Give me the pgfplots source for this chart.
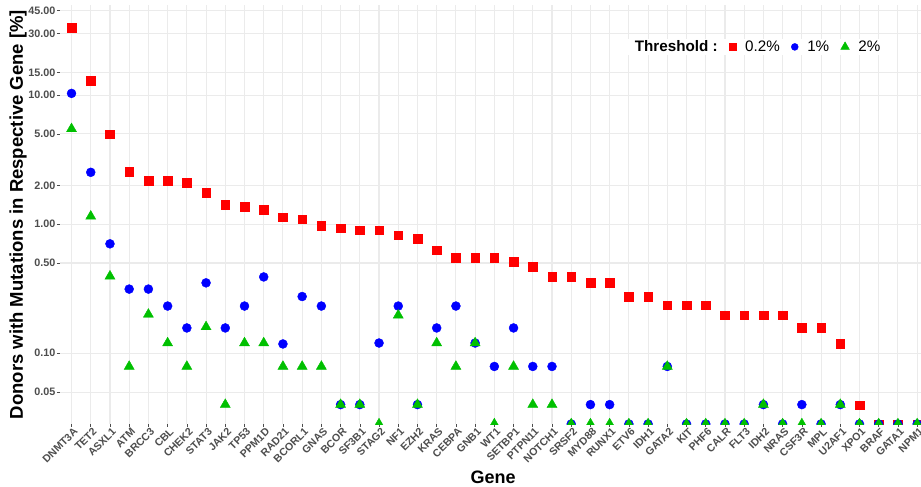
\documentclass[border=0pt]{standalone}
\usepackage{fontspec}
\setmainfont{Liberation Sans}
\usepackage{pgfplots}
\usepackage{pgfplotstable}
\pgfplotsset{compat=1.18}
\definecolor{gridc}{HTML}{EBEBEB}
\definecolor{tickc}{HTML}{4D4D4D}
\definecolor{ggred}{HTML}{FF0000}
\definecolor{ggblue}{HTML}{0000FF}
\definecolor{gggreen}{HTML}{00C000}

% zero counts are drawn at the lower panel edge (0.0283)
\pgfplotstableread{
x gene r b g
0 DNMT3A 33.2 10.3 5.47
1 TET2 12.9 2.52 1.15
2 ASXL1 4.98 0.704 0.395
3 ATM 2.54 0.314 0.079
4 BRCC3 2.18 0.314 0.200
5 CBL 2.18 0.232 0.120
6 CHEK2 2.09 0.157 0.079
7 STAT3 1.75 0.351 0.160
8 JAK2 1.41 0.157 0.040
9 TP53 1.37 0.232 0.120
10 PPM1D 1.29 0.390 0.120
11 RAD21 1.13 0.118 0.079
12 BCORL1 1.09 0.275 0.079
13 GNAS 0.97 0.232 0.079
14 BCOR 0.93 0.040 0.040
15 SF3B1 0.90 0.040 0.040
16 STAG2 0.90 0.120 0.0283
17 NF1 0.82 0.232 0.197
18 EZH2 0.775 0.040 0.040
19 KRAS 0.63 0.157 0.120
20 CEBPA 0.548 0.232 0.079
21 GNB1 0.548 0.120 0.120
22 WT1 0.548 0.079 0.0283
23 SETBP1 0.51 0.157 0.079
24 PTPN11 0.47 0.079 0.040
25 NOTCH1 0.39 0.079 0.040
26 SRSF2 0.39 0.0283 0.0283
27 MYD88 0.353 0.040 0.0283
28 RUNX1 0.353 0.040 0.0283
29 ETV6 0.273 0.0283 0.0283
30 IDH1 0.273 0.0283 0.0283
31 GATA2 0.236 0.079 0.079
32 KIT 0.236 0.0283 0.0283
33 PHF6 0.236 0.0283 0.0283
34 CALR 0.197 0.0283 0.0283
35 FLT3 0.197 0.0283 0.0283
36 IDH2 0.197 0.040 0.040
37 NRAS 0.197 0.0283 0.0283
38 CSF3R 0.157 0.040 0.0283
39 MPL 0.157 0.0283 0.0283
40 U2AF1 0.118 0.040 0.040
41 XPO1 0.0396 0.0283 0.0283
42 BRAF 0.0283 0.0283 0.0283
43 GATA1 0.0283 0.0283 0.0283
44 NPM1 0.0283 0.0283 0.0283
}\genedata

\begin{document}
\begin{tikzpicture}
\useasboundingbox (-60pt,-63pt) rectangle (861pt,424pt);
\begin{axis}[
  at={(0pt,0pt)}, anchor=south west,
  scale only axis, width=861pt, height=419pt,
  ymode=log, ymin=0.0283, ymax=49.85,
  xmin=-0.6, xmax=44.2,
  clip marker paths=true,
  xtick={0,...,44},
  xticklabels={DNMT3A,TET2,ASXL1,ATM,BRCC3,CBL,CHEK2,STAT3,JAK2,TP53,PPM1D,RAD21,BCORL1,GNAS,BCOR,SF3B1,STAG2,NF1,EZH2,KRAS,CEBPA,GNB1,WT1,SETBP1,PTPN11,NOTCH1,SRSF2,MYD88,RUNX1,ETV6,IDH1,GATA2,KIT,PHF6,CALR,FLT3,IDH2,NRAS,CSF3R,MPL,U2AF1,XPO1,BRAF,GATA1,NPM1},
  ytick={0.05,0.1,0.5,1,2,5,10,15,30,45},
  yticklabels={0.05,0.10,0.50,1.00,2.00,5.00,10.00,15.00,30.00,45.00},
  minor ytick={},
  grid=major, major grid style={gridc, line width=1.1pt},
  axis x line*=bottom, axis y line*=left, axis line style={draw=none},
  tick align=outside, major tick length=3pt, tick style={tickc, line width=0.6pt},
  xticklabel style={rotate=45, anchor=north east, inner sep=1pt, xshift=2pt, text=tickc, font=\fontsize{10.6}{12}\selectfont\bfseries},
  yticklabel style={inner sep=1.5pt, text=tickc, font=\fontsize{10.8}{12}\selectfont\bfseries},
  xlabel={Gene},
  xlabel style={at={(axis description cs:0.503,-0.1265)}, anchor=center, font=\fontsize{18}{20}\selectfont\bfseries},
  ylabel={Donors with Mutations in Respective Gene [\%]},
  ylabel style={at={(axis description cs:-0.0488,0.5)}, anchor=center, font=\fontsize{18.5}{20}\selectfont\bfseries},
  legend image code/.code={\draw[#1] plot coordinates {(0pt,0pt)};},
  legend columns=4,
  legend style={at={(axis description cs:0.657,0.9)}, anchor=west, draw=none, fill=white, inner sep=0pt,
    font=\fontsize{15.2}{17}\selectfont,
    /tikz/every odd column/.append style={column sep=7pt},
    /tikz/every even column/.append style={column sep=9.5pt}},
]
\addlegendimage{empty legend}\addlegendentry{\textbf{Threshold :}}
\addlegendimage{only marks, mark=square*, mark size=3.5pt, ggred}\addlegendentry{0.2\%}
\addlegendimage{only marks, mark=*, mark size=3.5pt, ggblue}\addlegendentry{1\%}
\addlegendimage{only marks, mark=triangle*, mark size=5pt, gggreen}\addlegendentry{2\%}
\addplot[forget plot, only marks, mark=square*, mark size=4.3pt, color=ggred] table[x=x, y=r] {\genedata};
\addplot[forget plot, only marks, mark=*, mark size=4.5pt, color=ggblue] table[x=x, y=b] {\genedata};
\addplot[forget plot, only marks, mark=triangle*, mark size=5.8pt, color=gggreen] table[x=x, y=g] {\genedata};
\end{axis}
\end{tikzpicture}
\end{document}
